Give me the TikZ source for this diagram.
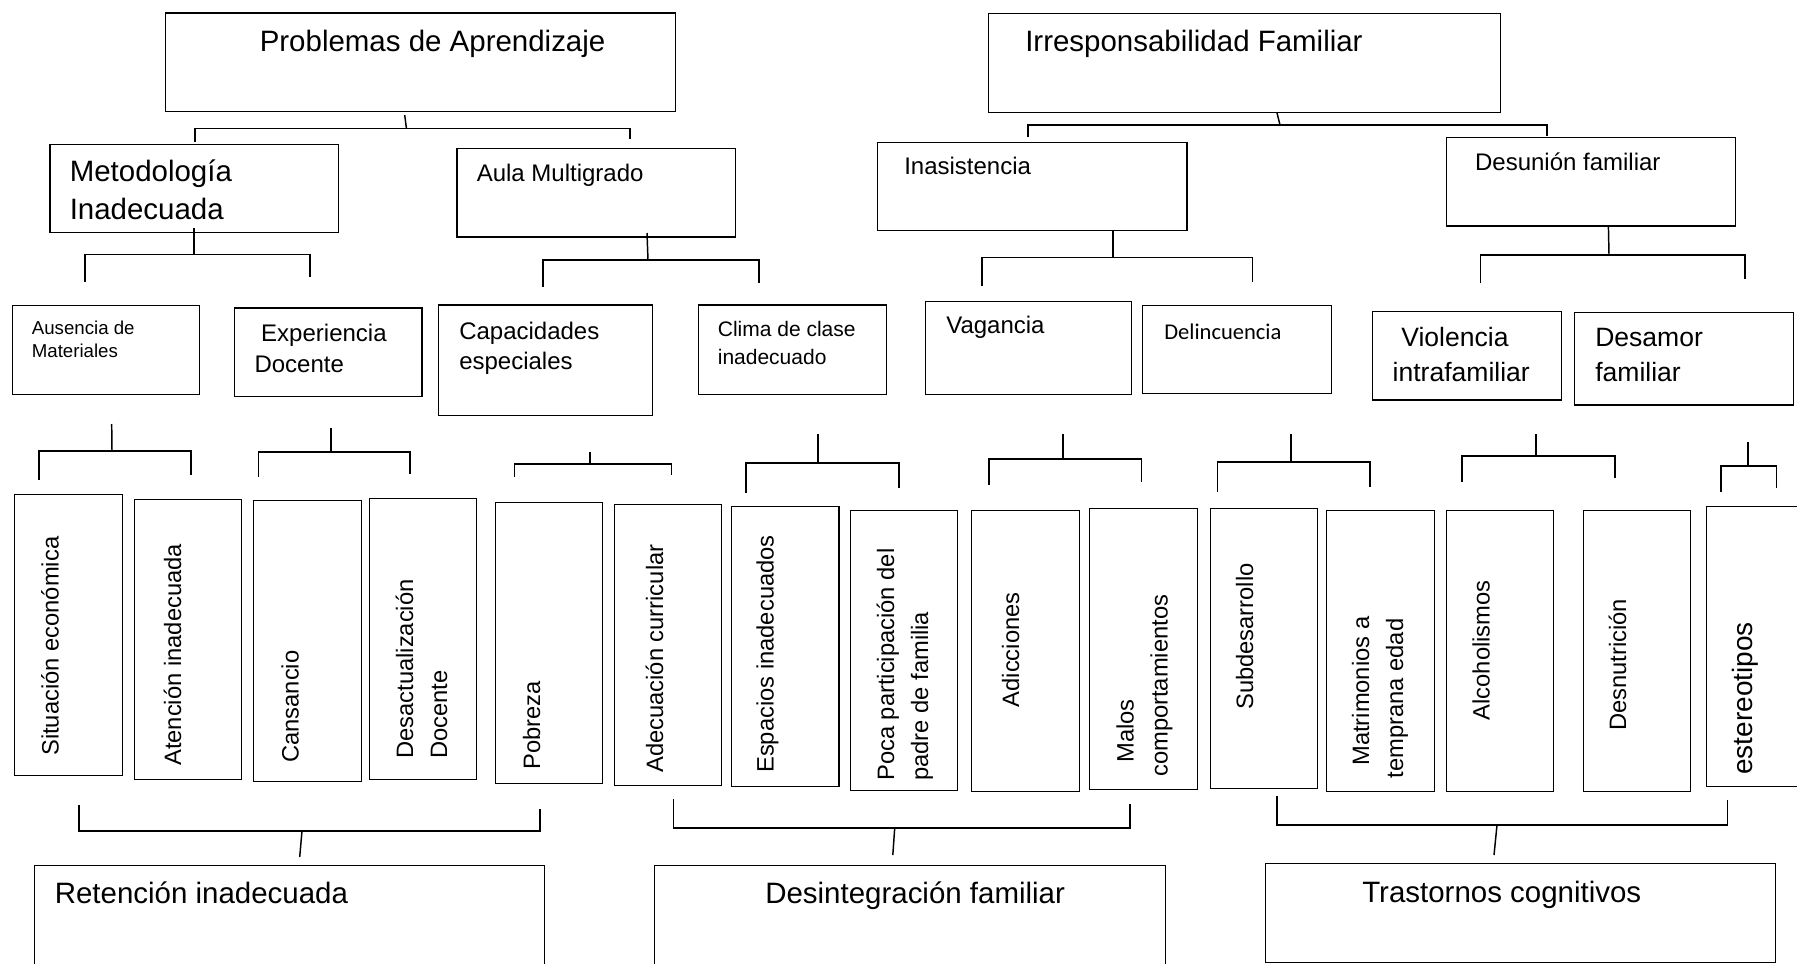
\documentclass[tikz,border=0pt]{standalone}
\usepackage{fontspec}
\setmainfont{Liberation Sans}
\newfontfamily\calib{Carlito}
\newcommand\fA{\fontsize{22.1pt}{26pt}\selectfont}
\newcommand\fB{\fontsize{18pt}{21pt}\selectfont}
\newcommand\fC{\fontsize{14pt}{17pt}\selectfont}
\newcommand\fD{\fontsize{15.75pt}{19pt}\selectfont}
\newcommand\fE{\fontsize{19.9pt}{23pt}\selectfont}
\newcommand\fV{\fontsize{17.8pt}{21pt}\selectfont}
\newcommand\fW{\fontsize{21pt}{25pt}\selectfont}
\newcommand\two[3]{\vtop{\baselineskip=#1\relax\hbox{#2}\hbox{#3}}}
\tikzset{
  boxst/.style={draw, line width=1.1pt, inner sep=0pt, anchor=north west},
  conn/.style={line width=1.1pt},
  lbl/.style={inner sep=0pt, anchor=base west},
  vlbl/.style={inner sep=0pt, anchor=base west, rotate=90},
}
\newcommand\bx[5]{\node[boxst, minimum width={(#4-#2)*0.75pt}, minimum height={(#5-#3)*0.75pt}] (#1) at (#2,#3) {};}
\newcommand\brk[9]{%
 \coordinate (#1a) at (#2,#3);
 \coordinate (#1b) at (#4,#5);
 \coordinate (#1l) at (#6,#7);
 \coordinate (#1r) at (#8,#9);
 \draw[conn] (#1a) -- (#1b);
 \draw[conn] (#1l) -- (#1l |- #1b) -- (#1r |- #1b) -- (#1r);}
\begin{document}
\begin{tikzpicture}[x=0.75pt,y=-0.75pt]
\fill[white] (0,0) rectangle (1797,963);
\useasboundingbox (0,0) rectangle (1797,963);
% level 1
\bx{prob}{164.8}{12.3}{674.5}{111}
\bx{irr}{988}{12.7}{1500}{111.7}
% level 2
\bx{met}{49.4}{144}{337.5}{232}
\bx{aula}{456.4}{147.7}{734.8}{236.3}
\bx{ina}{876.7}{141.7}{1186.2}{230}
\bx{desu}{1446}{137}{1735}{225.3}
% level 3
\bx{aus}{11.5}{305}{199}{394}
\bx{exp}{233.6}{307.3}{421.4}{395.7}
\bx{cap}{438}{304.3}{651.5}{415}
\bx{cli}{697.5}{304.3}{885.8}{394}
\bx{vag}{924.6}{301}{1130.9}{394}
\bx{del}{1142}{305}{1331}{393}
\bx{vio}{1372}{311}{1560.6}{399.3}
\bx{desa}{1573.8}{311.7}{1792.8}{404.3}
% level 4
\bx{sit}{14}{494}{121.5}{775}
\bx{ate}{133.5}{498.6}{240.7}{779}
\bx{can}{253}{500}{360.5}{781}
\bx{desac}{368.5}{498}{475.6}{779}
\bx{pob}{494.6}{502}{601.7}{783}
\bx{adec}{613.8}{504}{721}{785}
\bx{esp}{731}{506}{838.4}{786}
\bx{poca}{850}{510}{957}{790}
\bx{adic}{970.7}{510}{1079}{791}
\bx{malos}{1089}{508}{1197}{789}
\bx{subd}{1209.6}{508}{1317}{788}
\bx{matr}{1326}{510}{1433.6}{791}
\bx{alco}{1445.6}{510}{1553}{791}
\bx{desn}{1582.7}{510}{1690}{791}
\bx{este}{1706}{506}{1815}{786}
% bottom
\bx{ret}{33.5}{865}{544}{985}
\bx{desi}{653.6}{865}{1164.5}{985}
\bx{tras}{1265}{862.7}{1775}{961.5}
% labels
\node[lbl] (probT) at (259.5,51.7) {\fA Problemas de Aprendizaje};
\node[lbl] (irrT) at (1025,51.7) {\fA Irresponsabilidad Familiar};
\node[lbl] (metT) at (69.5,181.7) {\fA\two{28.7pt}{Metodología}{Inadecuada}};
\node[lbl] (aulaT) at (476.5,181) {\fB Aula Multigrado};
\node[lbl] (inaT) at (904,174) {\fB Inasistencia};
\node[lbl] (desuT) at (1474.8,170.7) {\fB Desunión familiar};
\node[lbl] (ausT) at (31.6,334.3) {\fC\two{17.5pt}{Ausencia de}{Materiales}};
\node[lbl] (expT) at (254.3,341) {\fB\two{23.8pt}{\hspace*{5pt}Experiencia}{Docente}};
\node[lbl] (capT) at (459,339.3) {\fB\two{23pt}{Capacidades}{especiales}};
\node[lbl] (cliT) at (717.6,336.7) {\fD\two{21.2pt}{Clima de clase}{inadecuado}};
\node[lbl] (vagT) at (946,333.3) {\fB Vagancia};
\node[lbl] (delT) at (1164,339) {\calib\fontsize{16.9pt}{20pt}\selectfont Delincuencia};
\node[lbl] (vioT) at (1392.4,346.7) {\fE\two{26.25pt}{\hspace*{6.5pt}Violencia}{intrafamiliar}};
\node[lbl] (desaT) at (1595,346.7) {\fE\two{26.25pt}{Desamor}{familiar}};
\node[vlbl] (sitT) at (58.5,756) {\fV Situación económica};
\node[vlbl] (ateT) at (181,766) {\fV Atención inadecuada};
\node[vlbl] (canT) at (298.5,763) {\fV Cansancio};
\node[vlbl] (desacT) at (413,759) {\fV\two{25.5pt}{Desactualización}{Docente}};
\node[vlbl] (pobT) at (540,770) {\fV Pobreza};
\node[vlbl] (adecT) at (663,773) {\fV Adecuación curricular};
\node[vlbl] (espT) at (773.5,773) {\fV Espacios inadecuados};
\node[vlbl] (pocaT) at (894,781) {\fV\two{25.5pt}{Poca participación del}{padre de familia}};
\node[vlbl] (adicT) at (1019,707.5) {\fV Adicciones};
\node[vlbl] (malT) at (1133.5,777) {\fV\two{25.5pt}{\hspace*{10.5pt}Malos}{comportamientos}};
\node[vlbl] (subT) at (1253,710) {\fV Subdesarrollo};
\node[vlbl] (matT) at (1369,778.5) {\fV\two{25.5pt}{\hspace*{9.4pt}Matrimonios a}{temprana edad}};
\node[vlbl] (alcT) at (1489.5,720.6) {\fV Alcoholismos};
\node[vlbl] (desnT) at (1626,731) {\fV Desnutrición};
\node[vlbl] (estT) at (1752,775) {\fW estereotipos};
\node[lbl] (retT) at (54.5,903) {\fA Retención inadecuada};
\node[lbl] (desiT) at (765,903) {\fA Desintegración familiar};
\node[lbl] (trasT) at (1362,902) {\fA Trastornos cognitivos};
% connectors level 1 -> 2
\brk{bP}{404.7}{115}{406.4}{128.3}{195}{141.7}{630}{139.3}
\brk{bI}{1277}{113}{1280}{125}{1028}{137.3}{1547}{136}
% level 2 -> 3
\brk{bM}{194}{228}{194}{254.3}{85}{281.7}{310}{277.3}
\brk{bA}{647}{233}{648}{260}{543}{287}{759}{283.3}
\brk{bN}{1113}{230}{1113}{257.7}{982}{286}{1252.4}{281.7}
\brk{bD}{1608.4}{226.7}{1609}{255}{1480.5}{283.3}{1745}{278.7}
% level 3 -> 4
\brk{bAu}{111.7}{424}{112}{451}{39}{480}{190.8}{475}
\brk{bEx}{331}{428}{331}{452}{258.5}{477}{410}{474}
\brk{bCa}{590}{452}{590}{464}{514.6}{477}{671.6}{475}
\brk{bCl}{818}{434}{818}{463}{746}{493}{899}{488}
\brk{bVa}{1062.8}{434}{1062.8}{459}{989}{485}{1141.7}{482}
\brk{bDe}{1291}{434}{1291}{462}{1217.7}{492}{1370}{486.5}
\brk{bVi}{1536}{434}{1536}{456}{1462}{482}{1615}{478}
\brk{bDs}{1748}{442}{1748}{466}{1721}{492}{1776.7}{487.5}
% bottom brackets
\brk{bRe}{299.7}{857}{302}{831}{79}{804.5}{540}{808.6}
\brk{bDi}{892.8}{855}{894.7}{828}{673.4}{799}{1130}{804}
\brk{bTr}{1494}{855}{1497}{825}{1277}{796}{1727.7}{800}
\end{tikzpicture}
\end{document}
